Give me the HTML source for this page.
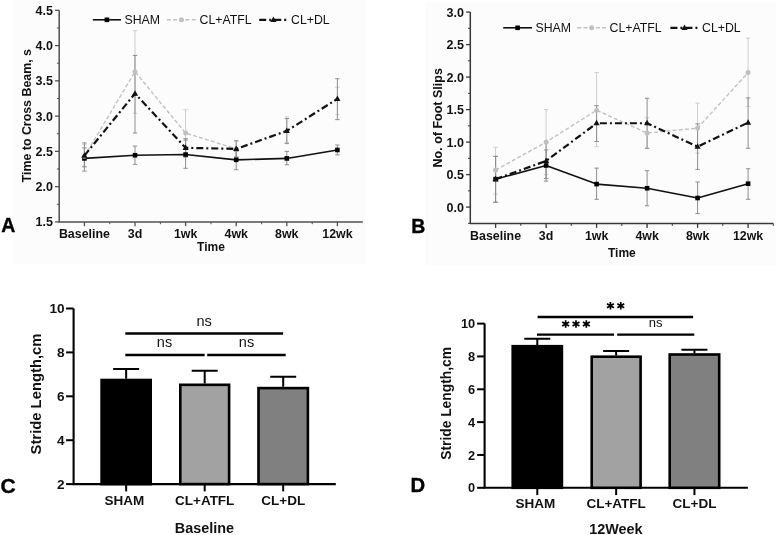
<!DOCTYPE html>
<html><head><meta charset="utf-8"><title>Figure</title>
<style>html,body{margin:0;padding:0;background:#fff;width:778px;height:535px;overflow:hidden}svg{display:block;will-change:transform}text{font-family:"Liberation Sans",sans-serif}</style>
</head><body>
<svg width="778" height="535" viewBox="0 0 778 535" font-family="Liberation Sans, sans-serif">
<rect width="778" height="535" fill="#fff"/>
<rect x="14" y="0" width="352" height="264" fill="#fcfcfc"/>
<path d="M59.2 10.31 V221.9 H362.8" fill="none" stroke="#505050" stroke-width="1.5"/>
<line x1="55" y1="221.9" x2="59.2" y2="221.9" stroke="#505050" stroke-width="1.3"/>
<text x="52.9" y="226.3" text-anchor="end" font-size="12.5" font-weight="bold" fill="#111">1.5</text>
<line x1="55" y1="186.63" x2="59.2" y2="186.63" stroke="#505050" stroke-width="1.3"/>
<text x="52.9" y="191.03" text-anchor="end" font-size="12.5" font-weight="bold" fill="#111">2.0</text>
<line x1="55" y1="151.37" x2="59.2" y2="151.37" stroke="#505050" stroke-width="1.3"/>
<text x="52.9" y="155.77" text-anchor="end" font-size="12.5" font-weight="bold" fill="#111">2.5</text>
<line x1="55" y1="116.11" x2="59.2" y2="116.11" stroke="#505050" stroke-width="1.3"/>
<text x="52.9" y="120.51" text-anchor="end" font-size="12.5" font-weight="bold" fill="#111">3.0</text>
<line x1="55" y1="80.84" x2="59.2" y2="80.84" stroke="#505050" stroke-width="1.3"/>
<text x="52.9" y="85.24" text-anchor="end" font-size="12.5" font-weight="bold" fill="#111">3.5</text>
<line x1="55" y1="45.58" x2="59.2" y2="45.58" stroke="#505050" stroke-width="1.3"/>
<text x="52.9" y="49.98" text-anchor="end" font-size="12.5" font-weight="bold" fill="#111">4.0</text>
<line x1="55" y1="10.31" x2="59.2" y2="10.31" stroke="#505050" stroke-width="1.3"/>
<text x="52.9" y="14.71" text-anchor="end" font-size="12.5" font-weight="bold" fill="#111">4.5</text>
<line x1="56.9" y1="204.27" x2="59.2" y2="204.27" stroke="#505050" stroke-width="1"/>
<line x1="56.9" y1="169" x2="59.2" y2="169" stroke="#505050" stroke-width="1"/>
<line x1="56.9" y1="133.74" x2="59.2" y2="133.74" stroke="#505050" stroke-width="1"/>
<line x1="56.9" y1="98.47" x2="59.2" y2="98.47" stroke="#505050" stroke-width="1"/>
<line x1="56.9" y1="63.21" x2="59.2" y2="63.21" stroke="#505050" stroke-width="1"/>
<line x1="56.9" y1="27.94" x2="59.2" y2="27.94" stroke="#505050" stroke-width="1"/>
<line x1="84.4" y1="221.9" x2="84.4" y2="226.2" stroke="#505050" stroke-width="1.3"/>
<text x="84.4" y="238.3" text-anchor="middle" font-size="12.4" font-weight="bold" fill="#111">Baseline</text>
<line x1="135" y1="221.9" x2="135" y2="226.2" stroke="#505050" stroke-width="1.3"/>
<text x="135" y="238.3" text-anchor="middle" font-size="12.4" font-weight="bold" fill="#111">3d</text>
<line x1="185.6" y1="221.9" x2="185.6" y2="226.2" stroke="#505050" stroke-width="1.3"/>
<text x="185.6" y="238.3" text-anchor="middle" font-size="12.4" font-weight="bold" fill="#111">1wk</text>
<line x1="236.2" y1="221.9" x2="236.2" y2="226.2" stroke="#505050" stroke-width="1.3"/>
<text x="236.2" y="238.3" text-anchor="middle" font-size="12.4" font-weight="bold" fill="#111">4wk</text>
<line x1="286.8" y1="221.9" x2="286.8" y2="226.2" stroke="#505050" stroke-width="1.3"/>
<text x="286.8" y="238.3" text-anchor="middle" font-size="12.4" font-weight="bold" fill="#111">8wk</text>
<line x1="337.4" y1="221.9" x2="337.4" y2="226.2" stroke="#505050" stroke-width="1.3"/>
<text x="337.4" y="238.3" text-anchor="middle" font-size="12.4" font-weight="bold" fill="#111">12wk</text>
<line x1="109.8" y1="221.9" x2="109.8" y2="224.2" stroke="#505050" stroke-width="1"/>
<line x1="160.4" y1="221.9" x2="160.4" y2="224.2" stroke="#505050" stroke-width="1"/>
<line x1="211" y1="221.9" x2="211" y2="224.2" stroke="#505050" stroke-width="1"/>
<line x1="261.6" y1="221.9" x2="261.6" y2="224.2" stroke="#505050" stroke-width="1"/>
<line x1="312.2" y1="221.9" x2="312.2" y2="224.2" stroke="#505050" stroke-width="1"/>
<text x="211" y="251.4" text-anchor="middle" font-size="12" font-weight="bold" fill="#111">Time</text>
<text transform="translate(30.8 115.7) rotate(-90)" text-anchor="middle" font-size="12.4" font-weight="bold" fill="#111">Time to Cross Beam, s</text>
<text x="1.2" y="232" font-size="19.5" font-weight="bold" fill="#000" stroke="#000" stroke-width="0.35">A</text>
<path d="M84.4 144.32 V166.18 M82.2 144.32 H86.6 M82.2 166.18 H86.6" stroke="#cdcdcd" stroke-width="1" fill="none"/>
<path d="M135 30.76 V113.28 M132.8 30.76 H137.2 M132.8 113.28 H137.2" stroke="#cdcdcd" stroke-width="1" fill="none"/>
<path d="M185.6 109.76 V157.01 M183.4 109.76 H187.8 M183.4 157.01 H187.8" stroke="#cdcdcd" stroke-width="1" fill="none"/>
<path d="M236.2 140.79 V157.01 M234 140.79 H238.4 M234 157.01 H238.4" stroke="#cdcdcd" stroke-width="1" fill="none"/>
<path d="M286.8 116.81 V142.2 M284.6 116.81 H289 M284.6 142.2 H289" stroke="#cdcdcd" stroke-width="1" fill="none"/>
<path d="M337.4 87.19 V114.69 M335.2 87.19 H339.6 M335.2 114.69 H339.6" stroke="#cdcdcd" stroke-width="1" fill="none"/>
<path d="M84.4 142.91 V171.12 M82.2 142.91 H86.6 M82.2 171.12 H86.6" stroke="#8e8e8e" stroke-width="1" fill="none"/>
<path d="M135 55.45 V133.03 M132.8 55.45 H137.2 M132.8 133.03 H137.2" stroke="#8e8e8e" stroke-width="1" fill="none"/>
<path d="M185.6 138.67 V157.01 M183.4 138.67 H187.8 M183.4 157.01 H187.8" stroke="#8e8e8e" stroke-width="1" fill="none"/>
<path d="M236.2 140.79 V157.01 M234 140.79 H238.4 M234 157.01 H238.4" stroke="#8e8e8e" stroke-width="1" fill="none"/>
<path d="M286.8 118.57 V143.61 M284.6 118.57 H289 M284.6 143.61 H289" stroke="#8e8e8e" stroke-width="1" fill="none"/>
<path d="M337.4 78.72 V119.63 M335.2 78.72 H339.6 M335.2 119.63 H339.6" stroke="#8e8e8e" stroke-width="1" fill="none"/>
<path d="M84.4 147.84 V166.89 M82.2 147.84 H86.6 M82.2 166.89 H86.6" stroke="#8e8e8e" stroke-width="1" fill="none"/>
<path d="M135 146.08 V164.42 M132.8 146.08 H137.2 M132.8 164.42 H137.2" stroke="#8e8e8e" stroke-width="1" fill="none"/>
<path d="M185.6 140.09 V168.3 M183.4 140.09 H187.8 M183.4 168.3 H187.8" stroke="#8e8e8e" stroke-width="1" fill="none"/>
<path d="M236.2 151.37 V169.71 M234 151.37 H238.4 M234 169.71 H238.4" stroke="#8e8e8e" stroke-width="1" fill="none"/>
<path d="M286.8 151.37 V164.77 M284.6 151.37 H289 M284.6 164.77 H289" stroke="#8e8e8e" stroke-width="1" fill="none"/>
<path d="M337.4 145.02 V154.9 M335.2 145.02 H339.6 M335.2 154.9 H339.6" stroke="#8e8e8e" stroke-width="1" fill="none"/>
<polyline points="84.4,158.42 135,155.25 185.6,154.54 236.2,159.83 286.8,158.42 337.4,149.96" fill="none" stroke="#111" stroke-width="1.6" stroke-dasharray="none" stroke-linejoin="round"/>
<rect x="82.1" y="156.12" width="4.6" height="4.6" fill="#000"/>
<rect x="132.7" y="152.95" width="4.6" height="4.6" fill="#000"/>
<rect x="183.3" y="152.24" width="4.6" height="4.6" fill="#000"/>
<rect x="233.9" y="157.53" width="4.6" height="4.6" fill="#000"/>
<rect x="284.5" y="156.12" width="4.6" height="4.6" fill="#000"/>
<rect x="335.1" y="147.66" width="4.6" height="4.6" fill="#000"/>
<polyline points="84.4,156.31 135,71.67 185.6,133.03 236.2,148.9" fill="none" stroke="#c2c2c2" stroke-width="1.4" stroke-dasharray="4 2.2" stroke-linejoin="round"/>
<circle cx="84.4" cy="156.31" r="2.5" fill="#c0c0c0"/>
<circle cx="135" cy="71.67" r="2.5" fill="#c0c0c0"/>
<circle cx="185.6" cy="133.03" r="2.5" fill="#c0c0c0"/>
<circle cx="236.2" cy="148.9" r="2.5" fill="#c0c0c0"/>
<polyline points="84.4,155.6 135,93.54 185.6,147.84 236.2,148.9 286.8,130.92 337.4,98.83" fill="none" stroke="#111" stroke-width="2.2" stroke-dasharray="7 3 2 3" stroke-linejoin="round"/>
<path d="M84.4 152.2 L87.5 157.7 L81.3 157.7Z" fill="#111"/>
<path d="M135 90.14 L138.1 95.64 L131.9 95.64Z" fill="#111"/>
<path d="M185.6 144.44 L188.7 149.94 L182.5 149.94Z" fill="#111"/>
<path d="M236.2 145.5 L239.3 151 L233.1 151Z" fill="#111"/>
<path d="M286.8 127.52 L289.9 133.02 L283.7 133.02Z" fill="#111"/>
<path d="M337.4 95.43 L340.5 100.93 L334.3 100.93Z" fill="#111"/>
<line x1="92.8" y1="19.8" x2="121" y2="19.8" stroke="#111" stroke-width="1.6" stroke-dasharray="none"/>
<rect x="104.6" y="17.5" width="4.6" height="4.6" fill="#000"/>
<text x="124.5" y="24" font-size="12.3" fill="#111">SHAM</text>
<line x1="166.9" y1="19.8" x2="196" y2="19.8" stroke="#c2c2c2" stroke-width="1.4" stroke-dasharray="4 2.2"/>
<circle cx="181.45" cy="19.8" r="2.5" fill="#c0c0c0"/>
<text x="199.5" y="24" font-size="12.3" fill="#111">CL+ATFL</text>
<line x1="259.2" y1="19.8" x2="287.6" y2="19.8" stroke="#111" stroke-width="2.2" stroke-dasharray="7 3 2 3"/>
<path d="M273.4 16.4 L276.5 21.9 L270.3 21.9Z" fill="#111"/>
<text x="291.1" y="24" font-size="12.3" fill="#111">CL+DL</text>
<rect x="425.5" y="2" width="350.5" height="263.5" fill="#fcfcfc"/>
<path d="M470.3 12.1 V223.6 H773.5" fill="none" stroke="#383838" stroke-width="1.5"/>
<line x1="466.1" y1="207.1" x2="470.3" y2="207.1" stroke="#383838" stroke-width="1.3"/>
<text x="464" y="211.5" text-anchor="end" font-size="12.5" font-weight="bold" fill="#111">0.0</text>
<line x1="466.1" y1="174.6" x2="470.3" y2="174.6" stroke="#383838" stroke-width="1.3"/>
<text x="464" y="179" text-anchor="end" font-size="12.5" font-weight="bold" fill="#111">0.5</text>
<line x1="466.1" y1="142.1" x2="470.3" y2="142.1" stroke="#383838" stroke-width="1.3"/>
<text x="464" y="146.5" text-anchor="end" font-size="12.5" font-weight="bold" fill="#111">1.0</text>
<line x1="466.1" y1="109.6" x2="470.3" y2="109.6" stroke="#383838" stroke-width="1.3"/>
<text x="464" y="114" text-anchor="end" font-size="12.5" font-weight="bold" fill="#111">1.5</text>
<line x1="466.1" y1="77.1" x2="470.3" y2="77.1" stroke="#383838" stroke-width="1.3"/>
<text x="464" y="81.5" text-anchor="end" font-size="12.5" font-weight="bold" fill="#111">2.0</text>
<line x1="466.1" y1="44.6" x2="470.3" y2="44.6" stroke="#383838" stroke-width="1.3"/>
<text x="464" y="49" text-anchor="end" font-size="12.5" font-weight="bold" fill="#111">2.5</text>
<line x1="466.1" y1="12.1" x2="470.3" y2="12.1" stroke="#383838" stroke-width="1.3"/>
<text x="464" y="16.5" text-anchor="end" font-size="12.5" font-weight="bold" fill="#111">3.0</text>
<line x1="468" y1="223.35" x2="470.3" y2="223.35" stroke="#383838" stroke-width="1"/>
<line x1="468" y1="190.85" x2="470.3" y2="190.85" stroke="#383838" stroke-width="1"/>
<line x1="468" y1="158.35" x2="470.3" y2="158.35" stroke="#383838" stroke-width="1"/>
<line x1="468" y1="125.85" x2="470.3" y2="125.85" stroke="#383838" stroke-width="1"/>
<line x1="468" y1="93.35" x2="470.3" y2="93.35" stroke="#383838" stroke-width="1"/>
<line x1="468" y1="60.85" x2="470.3" y2="60.85" stroke="#383838" stroke-width="1"/>
<line x1="468" y1="28.35" x2="470.3" y2="28.35" stroke="#383838" stroke-width="1"/>
<line x1="495.6" y1="223.6" x2="495.6" y2="227.9" stroke="#383838" stroke-width="1.3"/>
<text x="495.6" y="239.5" text-anchor="middle" font-size="12.4" font-weight="bold" fill="#111">Baseline</text>
<line x1="546.1" y1="223.6" x2="546.1" y2="227.9" stroke="#383838" stroke-width="1.3"/>
<text x="546.1" y="239.5" text-anchor="middle" font-size="12.4" font-weight="bold" fill="#111">3d</text>
<line x1="596.6" y1="223.6" x2="596.6" y2="227.9" stroke="#383838" stroke-width="1.3"/>
<text x="596.6" y="239.5" text-anchor="middle" font-size="12.4" font-weight="bold" fill="#111">1wk</text>
<line x1="647.1" y1="223.6" x2="647.1" y2="227.9" stroke="#383838" stroke-width="1.3"/>
<text x="647.1" y="239.5" text-anchor="middle" font-size="12.4" font-weight="bold" fill="#111">4wk</text>
<line x1="697.6" y1="223.6" x2="697.6" y2="227.9" stroke="#383838" stroke-width="1.3"/>
<text x="697.6" y="239.5" text-anchor="middle" font-size="12.4" font-weight="bold" fill="#111">8wk</text>
<line x1="748.1" y1="223.6" x2="748.1" y2="227.9" stroke="#383838" stroke-width="1.3"/>
<text x="748.1" y="239.5" text-anchor="middle" font-size="12.4" font-weight="bold" fill="#111">12wk</text>
<line x1="520.8" y1="223.6" x2="520.8" y2="225.9" stroke="#383838" stroke-width="1"/>
<line x1="571.3" y1="223.6" x2="571.3" y2="225.9" stroke="#383838" stroke-width="1"/>
<line x1="621.8" y1="223.6" x2="621.8" y2="225.9" stroke="#383838" stroke-width="1"/>
<line x1="672.3" y1="223.6" x2="672.3" y2="225.9" stroke="#383838" stroke-width="1"/>
<line x1="722.8" y1="223.6" x2="722.8" y2="225.9" stroke="#383838" stroke-width="1"/>
<line x1="773.3" y1="223.6" x2="773.3" y2="225.9" stroke="#383838" stroke-width="1"/>
<text x="621.9" y="256.8" text-anchor="middle" font-size="12" font-weight="bold" fill="#111">Time</text>
<text transform="translate(441.5 117.8) rotate(-90)" text-anchor="middle" font-size="12.5" font-weight="bold" fill="#111">No. of Foot Slips</text>
<text x="411.2" y="233.3" font-size="19.5" font-weight="bold" fill="#000" stroke="#000" stroke-width="0.35">B</text>
<path d="M495.6 147.3 V194.1 M493.4 147.3 H497.8 M493.4 194.1 H497.8" stroke="#cdcdcd" stroke-width="1" fill="none"/>
<path d="M546.1 109.6 V174.6 M543.9 109.6 H548.3 M543.9 174.6 H548.3" stroke="#cdcdcd" stroke-width="1" fill="none"/>
<path d="M596.6 72.55 V146.65 M594.4 72.55 H598.8 M594.4 146.65 H598.8" stroke="#cdcdcd" stroke-width="1" fill="none"/>
<path d="M647.1 117.72 V148.27 M644.9 117.72 H649.3 M644.9 148.27 H649.3" stroke="#cdcdcd" stroke-width="1" fill="none"/>
<path d="M697.6 103.1 V153.15 M695.4 103.1 H699.8 M695.4 153.15 H699.8" stroke="#cdcdcd" stroke-width="1" fill="none"/>
<path d="M748.1 38.1 V106.35 M745.9 38.1 H750.3 M745.9 106.35 H750.3" stroke="#cdcdcd" stroke-width="1" fill="none"/>
<path d="M495.6 156.4 V202.22 M493.4 156.4 H497.8 M493.4 202.22 H497.8" stroke="#8e8e8e" stroke-width="1" fill="none"/>
<path d="M546.1 142.75 V181.1 M543.9 142.75 H548.3 M543.9 181.1 H548.3" stroke="#8e8e8e" stroke-width="1" fill="none"/>
<path d="M596.6 105.7 V141.45 M594.4 105.7 H598.8 M594.4 141.45 H598.8" stroke="#8e8e8e" stroke-width="1" fill="none"/>
<path d="M647.1 98.22 V148.27 M644.9 98.22 H649.3 M644.9 148.27 H649.3" stroke="#8e8e8e" stroke-width="1" fill="none"/>
<path d="M697.6 123.9 V169.4 M695.4 123.9 H699.8 M695.4 169.4 H699.8" stroke="#8e8e8e" stroke-width="1" fill="none"/>
<path d="M748.1 97.9 V148.27 M745.9 97.9 H750.3 M745.9 148.27 H750.3" stroke="#8e8e8e" stroke-width="1" fill="none"/>
<path d="M495.6 156.4 V202.22 M493.4 156.4 H497.8 M493.4 202.22 H497.8" stroke="#8e8e8e" stroke-width="1" fill="none"/>
<path d="M546.1 149.9 V178.5 M543.9 149.9 H548.3 M543.9 178.5 H548.3" stroke="#8e8e8e" stroke-width="1" fill="none"/>
<path d="M596.6 168.1 V199.3 M594.4 168.1 H598.8 M594.4 199.3 H598.8" stroke="#8e8e8e" stroke-width="1" fill="none"/>
<path d="M647.1 170.7 V205.8 M644.9 170.7 H649.3 M644.9 205.8 H649.3" stroke="#8e8e8e" stroke-width="1" fill="none"/>
<path d="M697.6 182.01 V213.6 M695.4 182.01 H699.8 M695.4 213.6 H699.8" stroke="#8e8e8e" stroke-width="1" fill="none"/>
<path d="M748.1 168.75 V199.3 M745.9 168.75 H750.3 M745.9 199.3 H750.3" stroke="#8e8e8e" stroke-width="1" fill="none"/>
<polyline points="495.6,179.15 546.1,165.5 596.6,184.09 647.1,188.25 697.6,198 748.1,183.7" fill="none" stroke="#111" stroke-width="1.6" stroke-dasharray="none" stroke-linejoin="round"/>
<rect x="493.3" y="176.85" width="4.6" height="4.6" fill="#000"/>
<rect x="543.8" y="163.2" width="4.6" height="4.6" fill="#000"/>
<rect x="594.3" y="181.79" width="4.6" height="4.6" fill="#000"/>
<rect x="644.8" y="185.95" width="4.6" height="4.6" fill="#000"/>
<rect x="695.3" y="195.7" width="4.6" height="4.6" fill="#000"/>
<rect x="745.8" y="181.4" width="4.6" height="4.6" fill="#000"/>
<polyline points="495.6,170.05 546.1,142.1 596.6,110.25 647.1,133 697.6,128.12 748.1,72.55" fill="none" stroke="#c2c2c2" stroke-width="1.4" stroke-dasharray="4 2.2" stroke-linejoin="round"/>
<circle cx="495.6" cy="170.05" r="2.5" fill="#c0c0c0"/>
<circle cx="546.1" cy="142.1" r="2.5" fill="#c0c0c0"/>
<circle cx="596.6" cy="110.25" r="2.5" fill="#c0c0c0"/>
<circle cx="647.1" cy="133" r="2.5" fill="#c0c0c0"/>
<circle cx="697.6" cy="128.12" r="2.5" fill="#c0c0c0"/>
<circle cx="748.1" cy="72.55" r="2.5" fill="#c0c0c0"/>
<polyline points="495.6,179.15 546.1,160.95 596.6,123.25 647.1,123.25 697.6,146.65 748.1,122.6" fill="none" stroke="#111" stroke-width="2.2" stroke-dasharray="7 3 2 3" stroke-linejoin="round"/>
<path d="M495.6 175.75 L498.7 181.25 L492.5 181.25Z" fill="#111"/>
<path d="M546.1 157.55 L549.2 163.05 L543 163.05Z" fill="#111"/>
<path d="M596.6 119.85 L599.7 125.35 L593.5 125.35Z" fill="#111"/>
<path d="M647.1 119.85 L650.2 125.35 L644 125.35Z" fill="#111"/>
<path d="M697.6 143.25 L700.7 148.75 L694.5 148.75Z" fill="#111"/>
<path d="M748.1 119.2 L751.2 124.7 L745 124.7Z" fill="#111"/>
<line x1="503.2" y1="27.8" x2="532" y2="27.8" stroke="#111" stroke-width="1.6" stroke-dasharray="none"/>
<rect x="515.3" y="25.5" width="4.6" height="4.6" fill="#000"/>
<text x="535.5" y="32" font-size="12.3" fill="#111">SHAM</text>
<line x1="577.3" y1="27.8" x2="606" y2="27.8" stroke="#c2c2c2" stroke-width="1.4" stroke-dasharray="4 2.2"/>
<circle cx="591.65" cy="27.8" r="2.5" fill="#c0c0c0"/>
<text x="609.5" y="32" font-size="12.3" fill="#111">CL+ATFL</text>
<line x1="670.4" y1="27.8" x2="698.6" y2="27.8" stroke="#111" stroke-width="2.2" stroke-dasharray="7 3 2 3"/>
<path d="M684.5 24.4 L687.6 29.9 L681.4 29.9Z" fill="#111"/>
<text x="702.1" y="32" font-size="12.3" fill="#111">CL+DL</text>
<path d="M73.6 308.5 V484.1 H335.8" fill="none" stroke="#000" stroke-width="2.1"/>
<line x1="66.1" y1="484.1" x2="73.6" y2="484.1" stroke="#000" stroke-width="2"/>
<text x="64.6" y="488.97" text-anchor="end" font-size="13.6" font-weight="bold" fill="#111">2</text>
<line x1="66.1" y1="440.2" x2="73.6" y2="440.2" stroke="#000" stroke-width="2"/>
<text x="64.6" y="445.07" text-anchor="end" font-size="13.6" font-weight="bold" fill="#111">4</text>
<line x1="66.1" y1="396.3" x2="73.6" y2="396.3" stroke="#000" stroke-width="2"/>
<text x="64.6" y="401.17" text-anchor="end" font-size="13.6" font-weight="bold" fill="#111">6</text>
<line x1="66.1" y1="352.4" x2="73.6" y2="352.4" stroke="#000" stroke-width="2"/>
<text x="64.6" y="357.27" text-anchor="end" font-size="13.6" font-weight="bold" fill="#111">8</text>
<line x1="66.1" y1="308.5" x2="73.6" y2="308.5" stroke="#000" stroke-width="2"/>
<text x="64.6" y="313.37" text-anchor="end" font-size="13.6" font-weight="bold" fill="#111">10</text>
<path d="M126.15 378.7 V369.1 M113.15 369.1 H139.15" stroke="#000" stroke-width="2" fill="none"/>
<rect x="101.6" y="380" width="49.1" height="104.1" fill="#000" stroke="#000" stroke-width="2.6"/>
<line x1="126.15" y1="484.1" x2="126.15" y2="491.4" stroke="#000" stroke-width="2"/>
<path d="M204.7 383.5 V370.7 M191.7 370.7 H217.7" stroke="#000" stroke-width="2" fill="none"/>
<rect x="180.3" y="384.8" width="48.8" height="99.3" fill="#a2a2a2" stroke="#000" stroke-width="2.6"/>
<line x1="204.7" y1="484.1" x2="204.7" y2="491.4" stroke="#000" stroke-width="2"/>
<path d="M283.2 386.8 V376.8 M270.2 376.8 H296.2" stroke="#000" stroke-width="2" fill="none"/>
<rect x="258.5" y="388.1" width="49.4" height="96" fill="#808080" stroke="#000" stroke-width="2.6"/>
<line x1="283.2" y1="484.1" x2="283.2" y2="491.4" stroke="#000" stroke-width="2"/>
<text x="124.25" y="505.3" text-anchor="middle" font-size="13.5" font-weight="bold" fill="#111">SHAM</text>
<text x="204.7" y="505.3" text-anchor="middle" font-size="13.5" font-weight="bold" fill="#111">CL+ATFL</text>
<text x="283.2" y="505.3" text-anchor="middle" font-size="13.5" font-weight="bold" fill="#111">CL+DL</text>
<line x1="125.3" y1="333.5" x2="283.1" y2="333.5" stroke="#000" stroke-width="2.5"/>
<line x1="125.3" y1="355" x2="204.6" y2="355" stroke="#000" stroke-width="2.5"/>
<line x1="207.2" y1="355" x2="285.7" y2="355" stroke="#000" stroke-width="2.5"/>
<text x="204.1" y="325.5" text-anchor="middle" font-size="14.5" font-weight="normal" fill="#111">ns</text>
<text x="164.5" y="347.2" text-anchor="middle" font-size="14.5" font-weight="normal" fill="#111">ns</text>
<text x="246.5" y="347.2" text-anchor="middle" font-size="14.5" font-weight="normal" fill="#111">ns</text>
<text x="204.4" y="532.7" text-anchor="middle" font-size="14.4" font-weight="bold" fill="#111">Baseline</text>
<text transform="translate(41 394) rotate(-90)" text-anchor="middle" font-size="14.8" font-weight="bold" fill="#111">Stride Length,cm</text>
<text x="0.6" y="493.2" font-size="21" font-weight="bold" fill="#000" stroke="#000" stroke-width="0.35">C</text>
<path d="M484.6 323.6 V487.8 H747.9" fill="none" stroke="#000" stroke-width="2.1"/>
<line x1="477.1" y1="487.8" x2="484.6" y2="487.8" stroke="#000" stroke-width="2"/>
<text x="475.2" y="492.38" text-anchor="end" font-size="12.8" font-weight="bold" fill="#111">0</text>
<line x1="477.1" y1="454.96" x2="484.6" y2="454.96" stroke="#000" stroke-width="2"/>
<text x="475.2" y="459.54" text-anchor="end" font-size="12.8" font-weight="bold" fill="#111">2</text>
<line x1="477.1" y1="422.12" x2="484.6" y2="422.12" stroke="#000" stroke-width="2"/>
<text x="475.2" y="426.7" text-anchor="end" font-size="12.8" font-weight="bold" fill="#111">4</text>
<line x1="477.1" y1="389.28" x2="484.6" y2="389.28" stroke="#000" stroke-width="2"/>
<text x="475.2" y="393.86" text-anchor="end" font-size="12.8" font-weight="bold" fill="#111">6</text>
<line x1="477.1" y1="356.44" x2="484.6" y2="356.44" stroke="#000" stroke-width="2"/>
<text x="475.2" y="361.02" text-anchor="end" font-size="12.8" font-weight="bold" fill="#111">8</text>
<line x1="477.1" y1="323.6" x2="484.6" y2="323.6" stroke="#000" stroke-width="2"/>
<text x="475.2" y="328.18" text-anchor="end" font-size="12.8" font-weight="bold" fill="#111">10</text>
<path d="M537.3 344.9 V338.7 M524.3 338.7 H550.3" stroke="#000" stroke-width="2" fill="none"/>
<rect x="512.7" y="346.2" width="49.2" height="141.6" fill="#000" stroke="#000" stroke-width="2.6"/>
<line x1="537.3" y1="487.8" x2="537.3" y2="495.1" stroke="#000" stroke-width="2"/>
<path d="M616.15 355.4 V351.1 M603.15 351.1 H629.15" stroke="#000" stroke-width="2" fill="none"/>
<rect x="591.7" y="356.7" width="48.9" height="131.1" fill="#a2a2a2" stroke="#000" stroke-width="2.6"/>
<line x1="616.15" y1="487.8" x2="616.15" y2="495.1" stroke="#000" stroke-width="2"/>
<path d="M694.45 353.2 V349.8 M681.45 349.8 H707.45" stroke="#000" stroke-width="2" fill="none"/>
<rect x="669.7" y="354.5" width="49.5" height="133.3" fill="#808080" stroke="#000" stroke-width="2.6"/>
<line x1="694.45" y1="487.8" x2="694.45" y2="495.1" stroke="#000" stroke-width="2"/>
<text x="535.4" y="508.4" text-anchor="middle" font-size="13.5" font-weight="bold" fill="#111">SHAM</text>
<text x="616.15" y="508.4" text-anchor="middle" font-size="13.5" font-weight="bold" fill="#111">CL+ATFL</text>
<text x="694.45" y="508.4" text-anchor="middle" font-size="13.5" font-weight="bold" fill="#111">CL+DL</text>
<line x1="537.6" y1="317" x2="693.1" y2="317" stroke="#000" stroke-width="2.3"/>
<line x1="537" y1="334.7" x2="614" y2="334.7" stroke="#000" stroke-width="2.3"/>
<line x1="617.2" y1="334.7" x2="694.3" y2="334.7" stroke="#000" stroke-width="2.3"/>
<path d="M610.43 302.1 V309.5 M606.98 303.8 L613.88 307.8 M606.98 307.8 L613.88 303.8" stroke="#000" stroke-width="1.7" fill="none"/>
<path d="M620.77 302.1 V309.5 M617.32 303.8 L624.23 307.8 M617.32 307.8 L624.23 303.8" stroke="#000" stroke-width="1.7" fill="none"/>
<path d="M565.65 320.3 V327.7 M562.2 322 L569.1 326 M562.2 326 L569.1 322" stroke="#000" stroke-width="1.7" fill="none"/>
<path d="M576 320.3 V327.7 M572.55 322 L579.45 326 M572.55 326 L579.45 322" stroke="#000" stroke-width="1.7" fill="none"/>
<path d="M586.35 320.3 V327.7 M582.9 322 L589.8 326 M582.9 326 L589.8 322" stroke="#000" stroke-width="1.7" fill="none"/>
<text x="655.7" y="326.9" text-anchor="middle" font-size="13" font-weight="normal" fill="#111">ns</text>
<text x="615.8" y="533.5" text-anchor="middle" font-size="14.4" font-weight="bold" fill="#111">12Week</text>
<text transform="translate(451 403.4) rotate(-90)" text-anchor="middle" font-size="13.8" font-weight="bold" fill="#111">Stride Length,cm</text>
<text x="410.6" y="492" font-size="20.3" font-weight="bold" fill="#000" stroke="#000" stroke-width="0.35">D</text>
</svg></body></html>
